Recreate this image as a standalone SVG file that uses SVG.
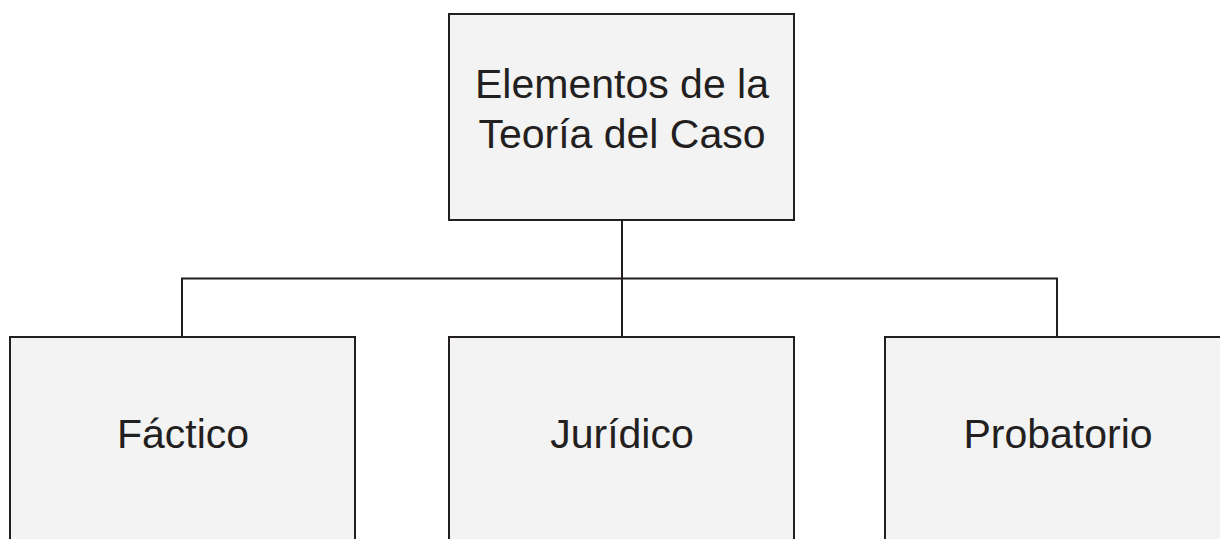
<svg xmlns="http://www.w3.org/2000/svg" width="1220" height="539" viewBox="0 0 1220 539">
<style>
.box{fill:#f3f3f3;stroke:#231f20;stroke-width:2}
.lbl{font-family:"Liberation Sans",Arial,sans-serif;font-size:41px;fill:#231f20;text-anchor:middle}
.con{fill:none;stroke:#231f20;stroke-width:2}
</style>
<rect width="1220" height="539" fill="#ffffff"/>
<g id="connectors">
<line class="con" x1="622" y1="220" x2="622" y2="337"/>
<polyline class="con" points="182,337 182,278.5 1057,278.5 1057,337"/>
</g>
<g id="root">
<rect class="box" x="449" y="14" width="345" height="206"/>
<text class="lbl" x="622" y="98">Elementos de la</text>
<text class="lbl" x="622" y="148">Teoría del Caso</text>
</g>
<g id="factico">
<rect class="box" x="10" y="337" width="345" height="220"/>
<text class="lbl" x="183" y="448">Fáctico</text>
</g>
<g id="juridico">
<rect class="box" x="449" y="337" width="345" height="220"/>
<text class="lbl" x="622" y="448">Jurídico</text>
</g>
<g id="probatorio">
<rect class="box" x="885" y="337" width="345" height="220"/>
<text class="lbl" x="1058" y="448">Probatorio</text>
</g>
</svg>
